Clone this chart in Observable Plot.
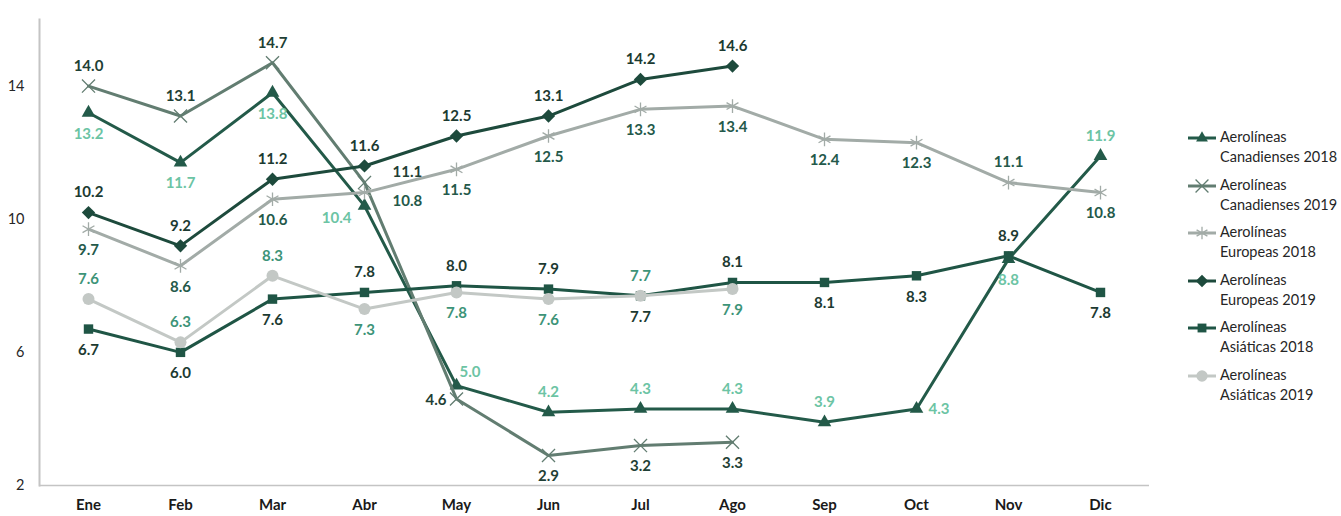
<!DOCTYPE html>
<html>
<head>
<meta charset="utf-8">
<script src="https://cdn.jsdelivr.net/npm/d3@7"></script>
<script src="https://cdn.jsdelivr.net/npm/@observablehq/plot@0.6"></script>
<style>
  body { margin: 0; background: #fff; font-family: Lato, "Open Sans", sans-serif; }
  #wrap { position: relative; width: 1341px; height: 516px; overflow: hidden; }
  #legend { position: absolute; left: 1186px; top: 127px; }
  .item { position: relative; height: 47.6px; }
  .item svg { position: absolute; left: 0; top: 1px; }
  .item .txt { position: absolute; left: 34px; top: 0; font-size: 14.5px; line-height: 20px; color: #262626; white-space: nowrap; }
</style>
</head>
<body>
<div id="wrap"><div id="chart"></div><div id="legend"></div></div>
<script>
// ---- data ----
const months = ["Ene","Feb","Mar","Abr","May","Jun","Jul","Ago","Sep","Oct","Nov","Dic"];
const yTicks = [2, 6, 10, 14];

const canadienses2018 = [13.2, 11.7, 13.8, 10.4, 5.0, 4.2, 4.3, 4.3, 3.9, 4.3, 8.8, 11.9];
const canadienses2019 = [14.0, 13.1, 14.7, 11.1, 4.6, 2.9, 3.2, 3.3];
const europeas2018   = [9.7, 8.6, 10.6, 10.8, 11.5, 12.5, 13.3, 13.4, 12.4, 12.3, 11.1, 10.8];
const europeas2019   = [10.2, 9.2, 11.2, 11.6, 12.5, 13.1, 14.2, 14.6];
const asiaticas2018  = [6.7, 6.0, 7.6, 7.8, 8.0, 7.9, 7.7, 8.1, 8.1, 8.3, 8.9, 7.8];
const asiaticas2019  = [7.6, 6.3, 8.3, 7.3, 7.8, 7.6, 7.7, 7.9];

const seriesNames = [
  "Aerolíneas Canadienses 2018", "Aerolíneas Canadienses 2019",
  "Aerolíneas Europeas 2018", "Aerolíneas Europeas 2019",
  "Aerolíneas Asiáticas 2018", "Aerolíneas Asiáticas 2019"
];

// ---- label placement codes (separate from data) ----
const placeCan18 = ["b","b","b","bl","ar","a","a","a","a","r","b","a"];
const placeCan19 = ["a","a","a","ur","l","b","b","b"];
const placeEur18 = ["b","b","b","dr","b","b","b","b","b","b","a","b"];
const placeEur19 = ["a","a","a","a","a","a","a","a"];
const placeAsi18 = ["b","b","b","a","a","a","b","a","b","b","a","b"];
const placeAsi19 = ["a","a","a","b","b","b","a","b"];

const placeStyle = {
  a:  {dx: 0,   dy: -20, textAnchor: "middle"},
  b:  {dx: 0,   dy: 21,  textAnchor: "middle"},
  r:  {dx: 12,  dy: 0,   textAnchor: "start"},
  l:  {dx: -10, dy: 1,   textAnchor: "end"},
  ar: {dx: 3,   dy: -13, textAnchor: "start"},
  bl: {dx: -13, dy: 12,  textAnchor: "end"},
  ur: {dx: 28,  dy: -10, textAnchor: "start"},
  dr: {dx: 28,  dy: 9,   textAnchor: "start"}
};

const series = [
  {name: seriesNames[0], values: canadienses2018, place: placeCan18, symbol: "triangle2", filled: true,  r: 6.5, color: "#235a49", label: "#6cc4a4"},
  {name: seriesNames[1], values: canadienses2019, place: placeCan19, symbol: "times",     filled: false, r: 6,   color: "#627d71", label: "#1f3f35"},
  {name: seriesNames[2], values: europeas2018,   place: placeEur18, symbol: "asterisk",  filled: false, r: 6.5, color: "#a2aba7", label: "#24594a"},
  {name: seriesNames[3], values: europeas2019,   place: placeEur19, symbol: "diamond2",  filled: true,  r: 6,   color: "#1d4a3c", label: "#1c3a31"},
  {name: seriesNames[4], values: asiaticas2018,  place: placeAsi18, symbol: "square2",   filled: true,  r: 6,   color: "#1f5545", label: "#1c3a31"},
  {name: seriesNames[5], values: asiaticas2019,  place: placeAsi19, symbol: "circle",    filled: true,  r: 6,   color: "#c3c8c5", label: "#3d9478"}
];

const rowsOf = s => s.values.map((v, i) => ({month: months[i], value: v, place: s.place[i]}));

const lineMarks = [];
const labelMarks = [];
for (const s of series) {
  const rows = rowsOf(s);
  lineMarks.push(Plot.line(rows, {x: "month", y: "value", stroke: s.color, strokeWidth: 3}));
  if (s.filled) {
    lineMarks.push(Plot.dot(rows, {x: "month", y: "value", symbol: () => s.symbol, r: s.r, fill: s.color, stroke: "none"}));
  } else {
    lineMarks.push(Plot.dot(rows, {x: "month", y: "value", symbol: () => s.symbol, r: s.r, fill: "none", stroke: s.color, strokeWidth: 1.3}));
  }
  for (const code of Object.keys(placeStyle)) {
    const sub = rows.filter(r => r.place === code);
    if (!sub.length) continue;
    labelMarks.push(Plot.text(sub, {
      x: "month", y: "value", text: d => d.value.toFixed(1),
      fill: s.label, fontSize: 15, fontWeight: "bold",
      ...placeStyle[code]
    }));
  }
}

const chart = Plot.plot({
  width: 1341,
  height: 516,
  marginLeft: 39,
  marginRight: 192,
  marginTop: 19,
  marginBottom: 31,
  style: {fontFamily: "Lato, 'Open Sans', sans-serif", fontSize: "14px", color: "#262626", background: "#fff"},
  x: {type: "point", domain: months, padding: 0.5, label: null},
  y: {domain: [2, 16], label: null},
  symbol: {type: "identity"},
  marks: [
    Plot.axisY(yTicks, {tickSize: 0, tickPadding: 15, fontSize: 14.5, fill: "#262626", label: null}),
    Plot.axisX({tickSize: 0, tickPadding: 14, fontSize: 15, fontWeight: "bold", fill: "#1a1a1a", label: null}),
    Plot.frame({anchor: "left", stroke: "#c4c4c4", strokeWidth: 2}),
    Plot.ruleY([2], {stroke: "#c4c4c4", strokeWidth: 1.5}),
    ...lineMarks,
    ...labelMarks
  ]
});
document.getElementById("chart").appendChild(chart);

// ---- legend ----
const legend = d3.select("#legend");
const symMap = {triangle2: d3.symbolTriangle2, times: d3.symbolTimes, asterisk: d3.symbolAsterisk, diamond2: d3.symbolDiamond2, square2: d3.symbolSquare2, circle: d3.symbolCircle};
for (const s of series) {
  const item = legend.append("div").attr("class", "item");
  const svg = item.append("svg").attr("width", 32).attr("height", 20);
  svg.append("line").attr("x1", 2).attr("x2", 30).attr("y1", 10).attr("y2", 10).attr("stroke", s.color).attr("stroke-width", 3);
  const p = svg.append("path").attr("transform", "translate(16,10)")
    .attr("d", d3.symbol(symMap[s.symbol], s.filled ? 100 : 110)());
  if (s.filled) p.attr("fill", s.color); else p.attr("fill", "none").attr("stroke", s.color).attr("stroke-width", 1.3);
  const words = s.name.split(" ");
  item.append("div").attr("class", "txt").html(words[0] + "<br>" + words.slice(1).join(" "));
}
</script>
</body>
</html>
